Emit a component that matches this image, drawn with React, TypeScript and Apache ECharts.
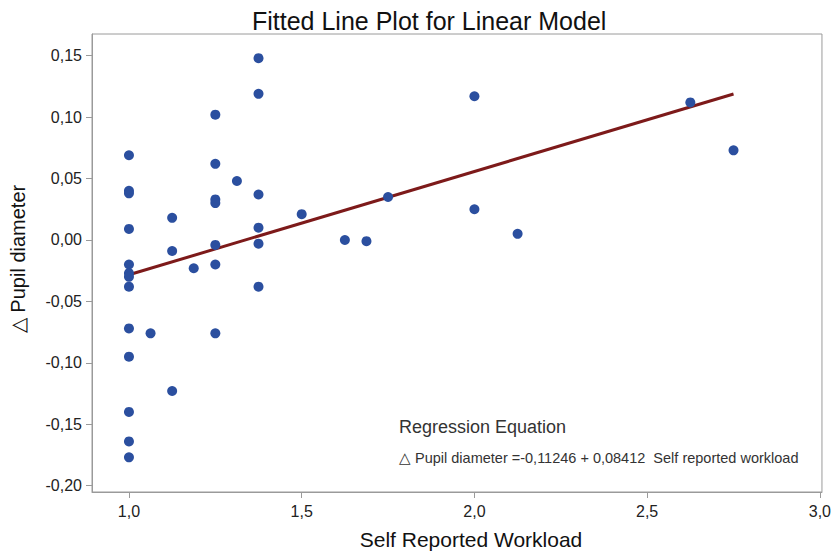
import React, { useEffect, useRef } from "react";
import * as echarts from "echarts";

const xTicks = [1.0, 1.5, 2.0, 2.5, 3.0];
const yTicks = [-0.2, -0.15, -0.1, -0.05, 0.0, 0.05, 0.1, 0.15];

const workload = [
  1.0, 1.0, 1.0, 1.0, 1.0, 1.0, 1.0, 1.0, 1.0, 1.0, 1.0, 1.0, 1.0,
  1.0625,
  1.125, 1.125, 1.125,
  1.1875,
  1.25, 1.25, 1.25, 1.25, 1.25, 1.25, 1.25,
  1.3125,
  1.375, 1.375, 1.375, 1.375, 1.375, 1.375,
  1.5, 1.625, 1.6875, 1.75,
  2.0, 2.0, 2.125, 2.625, 2.75,
];
const pupil = [
  0.069, 0.04, 0.038, 0.009, -0.02, -0.027, -0.03, -0.038, -0.072, -0.095, -0.14, -0.164, -0.177,
  -0.076,
  0.018, -0.009, -0.123,
  -0.023,
  0.102, 0.062, 0.033, 0.03, -0.004, -0.02, -0.076,
  0.048,
  0.148, 0.119, 0.037, 0.01, -0.003, -0.038,
  0.021, 0.0, -0.001, 0.035,
  0.117, 0.025, 0.005, 0.112, 0.073,
];
const intercept = -0.11246;
const slope = 0.08412;

export default function App() {
  const ref = useRef<HTMLDivElement>(null);
  useEffect(() => {
    if (!ref.current) return;
    const chart = echarts.init(ref.current, null, { renderer: "svg" });
    const pts = workload.map((x, i) => [x, pupil[i]]);
    const xmin = Math.min(...workload);
    const xmax = Math.max(...workload);
    const fit = [
      [xmin, intercept + slope * xmin],
      [xmax, intercept + slope * xmax],
    ];
    const font = "'Liberation Sans', Arial, sans-serif";
    chart.setOption({
      animation: false,
      backgroundColor: "#ffffff",
      textStyle: { fontFamily: font },
      title: {
        text: "Fitted Line Plot for Linear Model",
        left: 247,
        top: 3,
        textStyle: { fontFamily: font, fontSize: 25, fontWeight: "normal", color: "#111" },
      },
      grid: {
        left: 90,
        right: 12,
        top: 34,
        bottom: 66,
        show: true,
        borderColor: "#9a9a9a",
        borderWidth: 1,
      },
      xAxis: {
        type: "value",
        min: 0.893,
        max: 3.006,
        name: "Self Reported Workload",
        nameLocation: "middle",
        nameGap: 37,
        nameTextStyle: { fontFamily: font, fontSize: 21, color: "#111", padding: [0, 0, 0, 28] },
        splitLine: { show: false },
        axisLine: { show: true, onZero: false, lineStyle: { color: "#9a9a9a", width: 1 } },
        axisTick: { show: true, length: 6, customValues: xTicks, lineStyle: { color: "#9a9a9a" } },
        axisLabel: {
          customValues: xTicks,
          margin: 11,
          fontSize: 16,
          color: "#222",
          fontFamily: font,
          formatter: (v: number) => v.toFixed(1).replace(".", ","),
        },
      },
      yAxis: {
        type: "value",
        min: -0.2052,
        max: 0.1677,
        name: "\u25B3 Pupil diameter",
        nameLocation: "middle",
        nameRotate: 90,
        nameGap: 64,
        nameTextStyle: { fontFamily: font, fontSize: 20, color: "#111", padding: [0, 0, 0, 8] },
        splitLine: { show: false },
        axisLine: { show: true, onZero: false, lineStyle: { color: "#9a9a9a", width: 1 } },
        axisTick: { show: true, length: 6, customValues: yTicks, lineStyle: { color: "#9a9a9a" } },
        axisLabel: {
          customValues: yTicks,
          margin: 10,
          fontSize: 16,
          color: "#222",
          fontFamily: font,
          formatter: (v: number) => v.toFixed(2).replace(".", ","),
        },
      },
      series: [
        {
          type: "line",
          data: fit,
          symbol: "none",
          lineStyle: { color: "#7d1a1a", width: 3 },
          z: 2,
        },
        {
          type: "scatter",
          data: pts,
          symbol: "circle",
          symbolSize: 10,
          itemStyle: { color: "#2b4f9f", opacity: 1 },
          z: 3,
        },
      ],
      graphic: [
        {
          type: "text",
          left: 399,
          top: 418,
          style: {
            text: "Regression Equation",
            fontFamily: font,
            fontSize: 18,
            fill: "#333",
          },
        },
        {
          type: "text",
          left: 399,
          top: 450,
          style: {
            text: "\u25B3 Pupil diameter =-0,11246 + 0,08412  Self reported workload",
            fontFamily: font,
            fontSize: 14.5,
            fill: "#333",
          },
        },
      ],
    });
    return () => chart.dispose();
  }, []);
  return (
    <div
      ref={ref}
      style={{ position: "fixed", left: 0, top: 0, width: 834, height: 558 }}
    />
  );
}
